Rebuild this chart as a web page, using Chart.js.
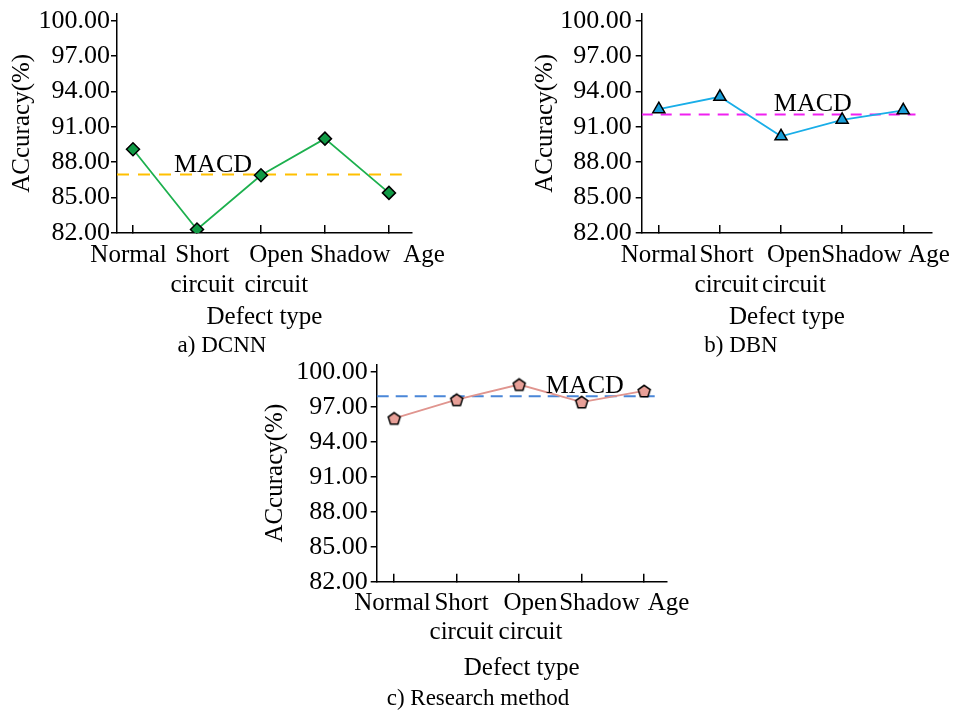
<!DOCTYPE html>
<html>
<head>
<meta charset="utf-8">
<script src="https://cdn.jsdelivr.net/npm/chart.js@4.4.0/dist/chart.umd.min.js"></script>
<style>
  body { margin: 0; background: #fff; width: 956px; height: 710px; position: relative; overflow: hidden;
         font-family: "Liberation Serif", "Times New Roman", serif; }
  canvas { position: absolute; }
  .caption { position: absolute; width: 300px; text-align: center; font-size: 23px; line-height: 26px; color: #000; }
</style>
</head>
<body>
<canvas id="chartA" width="460" height="360" style="left:0;top:0"></canvas>
<canvas id="chartB" width="436" height="360" style="left:520px;top:0"></canvas>
<canvas id="chartC" width="450" height="355" style="left:260px;top:355px"></canvas>
<div class="caption" id="capA" style="left:72px;top:332px"></div>
<div class="caption" id="capB" style="left:591px;top:332px"></div>
<div class="caption" id="capC" style="left:328px;top:685px"></div>
<script>
// Data
const defectTypes = [["Normal"], ["Short", "circuit"], ["Open", "circuit"], ["Shadow"], ["Age"]];
const yTicks = [82, 85, 88, 91, 94, 97, 100];
const dcnnAcc = [89.1, 82.3, 86.9, 90.0, 85.4];
const dbnAcc = [92.5, 93.55, 90.2, 91.6, 92.4];
const ourAcc = [96.0, 97.6, 98.9, 97.4, 98.35];
const macdValues = [86.95, 92.05, 97.9];
const captions = ["a) DCNN", "b) DBN", "c) Research method"];

const FONT = '"Liberation Serif", "Times New Roman", serif';
Chart.defaults.font.family = FONT;
Chart.defaults.color = '#000';

document.getElementById('capA').textContent = captions[0];
document.getElementById('capB').textContent = captions[1];
document.getElementById('capC').textContent = captions[2];

// pentagon marker for the last chart
function pentagon(fill) {
  const c = document.createElement('canvas');
  c.width = 16; c.height = 16;
  const g = c.getContext('2d');
  g.beginPath();
  for (let k = 0; k < 5; k++) {
    const a = -Math.PI / 2 + k * 2 * Math.PI / 5;
    g.lineTo(8 + 6.3 * Math.cos(a), 8.6 + 6.3 * Math.sin(a));
  }
  g.closePath();
  g.fillStyle = fill; g.fill();
  g.lineWidth = 1.5; g.strokeStyle = '#000'; g.stroke();
  return c;
}

// writes "MACD" just above the dashed line
const macdLabel = {
  id: 'macdLabel',
  afterDatasetsDraw(chart, args, opts) {
    const { ctx, scales: { x, y } } = chart;
    ctx.save();
    ctx.font = '26px ' + FONT;
    ctx.fillStyle = '#000';
    ctx.textAlign = 'center';
    ctx.textBaseline = 'alphabetic';
    ctx.fillText('MACD', x.getPixelForValue(opts.at), y.getPixelForValue(opts.value) - 3);
    ctx.restore();
  }
};

function makeChart(id, s) {
  const pts = s.values.map((v, i) => ({ x: i, y: v }));
  const categoryTicks = (sc) => { sc.ticks = defectTypes.map((_, i) => ({ value: i })); };
  return new Chart(document.getElementById(id), {
    type: 'line',
    data: {
      datasets: [{
        data: pts,
        borderColor: s.lineColor,
        borderWidth: 1.8,
        pointStyle: s.marker,
        pointRadius: s.markerRadius,
        pointBackgroundColor: s.markerColor,
        pointBorderColor: '#000',
        pointBorderWidth: 1.5,
        tension: 0
      }, {
        data: [{ x: s.xMin, y: s.macd }, { x: 4.2, y: s.macd }],
        borderColor: s.macdColor,
        borderWidth: 2,
        borderDash: s.dash,
        pointRadius: 0
      }]
    },
    options: {
      responsive: false,
      animation: false,
      layout: { padding: { top: s.padTop, right: s.padRight, left: 0, bottom: 0 } },
      plugins: {
        legend: { display: false },
        tooltip: { enabled: false },
        macdLabel: { at: s.macdAt, value: s.macd }
      },
      scales: {
        // axis line + inward tick marks
        x: {
          type: 'linear',
          min: s.xMin,
          max: s.xMax,
          weight: 0,
          afterBuildTicks: categoryTicks,
          afterFit: (sc) => { sc.height = 0; sc.paddingLeft = 0; sc.paddingRight = 0; },
          grid: { drawOnChartArea: false, tickLength: -8, color: '#000', lineWidth: 1.5 },
          border: { color: '#000', width: 1.5 },
          ticks: { display: false }
        },
        // category names, spread a little wider than the tick marks as in the figure
        xl: {
          type: 'linear',
          position: 'bottom',
          axis: 'x',
          min: s.lblMin,
          max: s.lblMax,
          weight: 1,
          afterBuildTicks: categoryTicks,
          afterFit: (sc) => { sc.height = s.xHeight; sc.paddingLeft = 0; sc.paddingRight = 0; },
          grid: { display: false, drawTicks: false },
          border: { display: false },
          ticks: {
            autoSkip: false,
            maxRotation: 0,
            padding: s.xTickPad,
            font: { size: 25, lineHeight: s.xLineHeight },
            callback: (v) => defectTypes[v]
          },
          title: {
            display: true,
            text: 'Defect type',
            font: { size: 25, lineHeight: 1.2 },
            padding: { top: 0, bottom: s.xTitlePad }
          }
        },
        y: {
          min: 82,
          max: 100.6,
          afterBuildTicks: (sc) => { sc.ticks = yTicks.map(v => ({ value: v })); },
          afterFit: (sc) => { sc.width = s.yWidth; sc.paddingTop = 0; sc.paddingBottom = 0; },
          grid: { drawOnChartArea: false, tickLength: 6, color: '#000', lineWidth: 1.5 },
          border: { color: '#000', width: 1.5 },
          ticks: {
            padding: s.yTickPad,
            font: { size: 26 },
            callback: (v) => v.toFixed(2)
          },
          title: {
            display: true,
            text: 'ACcuracy(%)',
            font: { size: 25, lineHeight: 1.2 },
            padding: { top: s.yTitlePad, bottom: 0 }
          }
        }
      }
    },
    plugins: [macdLabel]
  });
}

makeChart('chartA', {
  values: dcnnAcc, macd: macdValues[0],
  lineColor: '#1DB04E', markerColor: '#109A45', marker: 'rectRot', markerRadius: 6.5,
  macdColor: '#FFC000', dash: [12, 9], macdAt: 1.25,
  xMin: -0.25, xMax: 4.36, lblMin: -0.156, lblMax: 3.836, padTop: 13.6, padRight: 48,
  yWidth: 117, yTickPad: 1, yTitlePad: 7,
  xHeight: 127, xTickPad: 7, xLineHeight: 1.2, xTitlePad: 28
});

makeChart('chartB', {
  values: dbnAcc, macd: macdValues[1],
  lineColor: '#19AEE8', markerColor: '#1A9ED8', marker: 'triangle', markerRadius: 7,
  macdColor: '#F020F0', dash: [11, 8], macdAt: 2.52,
  xMin: -0.28, xMax: 4.47, lblMin: -0.256, lblMax: 4.044, padTop: 13.6, padRight: 24,
  yWidth: 121.7, yTickPad: 4, yTitlePad: 10,
  xHeight: 127, xTickPad: 7, xLineHeight: 1.2, xTitlePad: 28
});

makeChart('chartC', {
  values: ourAcc, macd: macdValues[2],
  lineColor: '#E0958F', markerColor: '#E8A098', marker: pentagon('#E8A098'), markerRadius: 7,
  macdColor: '#4A86D8', dash: [12, 7], macdAt: 3.05,
  xMin: -0.28, xMax: 4.36, lblMin: -0.229, lblMax: 3.974, padTop: 9.7, padRight: 43.3,
  yWidth: 116.7, yTickPad: 3, yTitlePad: 0,
  xHeight: 128.3, xTickPad: 7.2, xLineHeight: 1.15, xTitlePad: 26.7
});
</script>
</body>
</html>
